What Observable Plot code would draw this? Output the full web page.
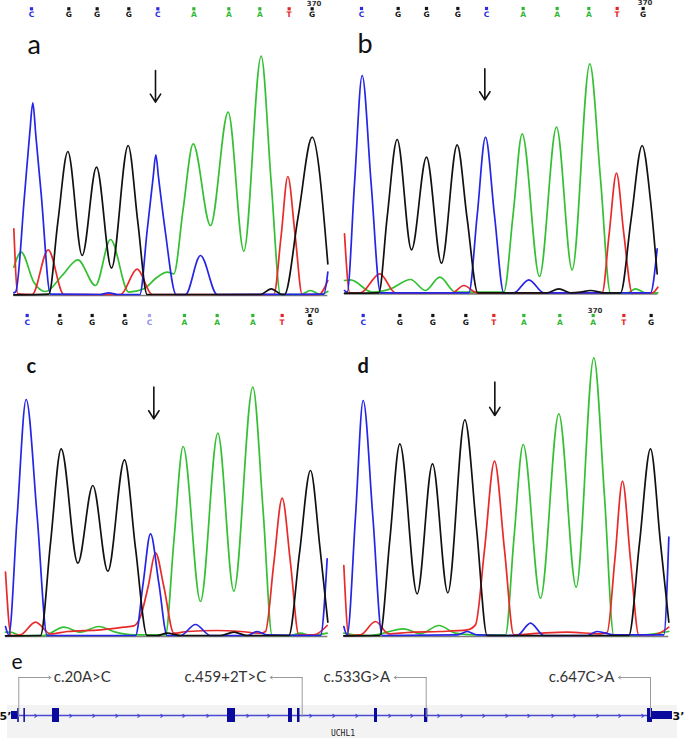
<!DOCTYPE html>
<html>
<head>
<meta charset="utf-8">
<script src="https://cdn.jsdelivr.net/npm/d3@7"></script>
<script src="https://cdn.jsdelivr.net/npm/@observablehq/plot@0.6"></script>
<style>
  body { margin: 0; background: #fff; }
  #fig { position: relative; width: 685px; height: 739px; overflow: hidden; background: #fff; }
</style>
</head>
<body>
<div id="fig"></div>
<script>
// ---------------- DATA ----------------
// Base calls (scan position of each call) for each panel
const calls = ["C","G","G","G","C","A","A","A","T","G"];
const callsD = ["C","G","G","G","T","A","A","A","T","G"];
const callPosA = [93,205,290,385,472,580,685,778,866,935];
const callPosB = [63,173,258,352,438,548,650,745,830,908];
const callPosC = [80,178,275,373,447,552,650,757,845,928];
const callPosD = [68,178,277,376,460,550,658,758,850,932];
const markIndexABC = 9;   // base numbered 370
const markIndexD = 7;
const markLabel = "370";
const panelLetters = ["a","b","c","d"];

// Trace vertices [scan, intensity]
// Panel a
const aGreen = [[40,85],[62,130],[100,40],[135,12],[185,60],[232,107],[285,30],[330,168],[385,10],[430,20],[470,55],[500,70],[520,65],[548,260],[578,455],[630,210],[683,550],[730,133],[782,718],[812,340],[840,3],[900,3],[930,15],[960,3],[982,12]];
const aRed = [[40,200],[52,5],[95,3],[143,137],[190,3],[360,3],[410,79],[455,3],[820,3],[842,180],[862,357],[884,180],[905,3],[955,3],[982,45]];
const aBlue = [[40,8],[46,12],[72,300],[88,490],[97,578],[106,480],[122,305],[150,4],[300,3],[325,8],[350,3],[418,3],[440,195],[458,355],[466,422],[474,355],[494,195],[527,3],[555,3],[600,120],[650,3],[970,4],[982,70]];
const aBlack = [[40,2],[145,4],[172,220],[202,432],[245,120],[288,385],[333,82],[383,450],[412,220],[440,3],[780,3],[812,20],[845,3],[852,3],[893,237],[935,475],[982,95]];
// Panel b
const bGreen = [[12,40],[30,42],[95,5],[150,15],[210,43],[255,10],[298,50],[345,5],[490,5],[518,240],[545,480],[597,52],[648,500],[695,72],[748,690],[780,345],[810,3],[860,3],[885,15],[915,3],[952,3]];
const bRed = [[12,180],[28,3],[60,3],[118,60],[165,3],[335,3],[370,25],[410,3],[785,3],[806,180],[828,362],[850,180],[875,3],[935,3],[952,20]];
const bBlue = [[12,10],[20,5],[42,330],[65,655],[92,330],[120,3],[385,3],[410,235],[435,470],[462,235],[490,3],[520,3],[565,42],[610,3],[930,3],[950,135]];
const bBlack = [[12,2],[115,3],[140,230],[170,463],[213,132],[258,410],[303,92],[350,447],[380,225],[412,3],[620,3],[655,15],[690,3],[720,5],[750,10],[790,3],[840,3],[872,225],[905,445],[930,280],[950,60]];
// Panel c
const cGreen = [[15,13],[30,13],[60,3],[130,3],[190,28],[240,13],[295,30],[345,13],[400,5],[495,5],[520,285],[548,570],[600,105],[652,610],[700,136],[757,748],[788,375],[815,3],[870,3],[900,10],[930,3],[980,10]];
const cRed = [[15,193],[32,3],[60,5],[105,43],[150,8],[200,15],[300,20],[370,28],[400,32],[420,60],[443,150],[465,251],[490,150],[520,10],[560,15],[650,18],[720,15],[780,10],[795,15],[820,220],[845,415],[870,220],[895,5],[940,5],[980,33]];
const cBlue = [[15,30],[25,5],[50,360],[77,711],[110,360],[140,3],[405,3],[428,160],[450,308],[475,160],[500,3],[540,3],[585,36],[630,3],[740,3],[770,15],[800,5],[960,3],[980,233]];
const cBlack = [[15,2],[120,3],[150,280],[182,563],[232,220],[277,453],[322,196],[372,530],[405,265],[440,3],[470,3],[500,10],[540,3],[660,3],[700,13],[740,3],[865,3],[897,250],[930,498],[958,270],[982,43]];
// Panel d
const dGreen = [[10,10],[40,5],[90,3],[190,23],[240,8],[295,33],[345,10],[400,5],[495,5],[520,290],[548,576],[600,115],[655,668],[707,148],[760,836],[792,420],[820,3],[880,3],[985,15]];
const dRed = [[10,213],[25,3],[60,5],[105,45],[145,8],[200,12],[300,15],[380,20],[405,35],[432,260],[462,526],[492,260],[520,5],[600,10],[680,13],[780,8],[800,12],[823,230],[846,466],[870,230],[895,5],[940,5],[985,28]];
const dBlue = [[10,30],[20,5],[45,360],[68,708],[97,360],[125,3],[350,5],[380,15],[410,5],[530,3],[570,40],[610,3],[740,3],[770,15],[820,5],[970,5],[985,298]];
const dBlack = [[10,2],[118,3],[148,290],[178,578],[230,128],[276,518],[322,131],[373,650],[408,325],[440,3],[865,3],[897,280],[930,563],[960,280],[985,43]];

// Arrows marking the variant base [scan, intensityTop, intensityTip]
const arrowA = [465, 675, 580];
const arrowB = [433, 675, 582];
const arrowC = [460, 748, 653];
const arrowD = [463, 763, 663];

// Gene model (UCHL1), genomic track coordinates
const geneName = "UCHL1";
const geneSpan = [11, 672];
const utrs = [[11,17.3],[652,672]];
const exons = [[17.2,18.8],[23.4,24.9],[52,59],[227,235],[288,292],[297,299.5],[374,377],[424,427.3],[647,652]];
const chevrons = [35,70,93,116,138,161,183,207,247,268,310,333,356,389,411,438,461,483,506,528,552,574,597,619,642];
const variants = ["c.20A>C","c.459+2T>C","c.533G>A","c.647C>A"];
const variantPos = [18.3,301.7,425.7,650];
const variantSide = [1,-1,-1,-1];

// ---------------- DRAWING ----------------
const fig = document.getElementById("fig");
const BASE_COLOR = {A: "#2fb82f", C: "#2b2be3", G: "#141414", T: "#e32626"};
const TRACE_COLOR = {A: "#33c033", C: "#2525e6", G: "#111111", T: "#e82a2a"};

function place(svg, left, top) {
  svg.style.position = "absolute";
  svg.style.left = left + "px";
  svg.style.top = top + "px";
  fig.appendChild(svg);
}

function chromPanel(p) {
  const idx = d3.range(p.calls.length);
  const allPts = p.traces.flatMap(t => t.pts);
  const xmin = d3.min(allPts, d => d[0]), xmax = d3.max(allPts, d => d[0]);
  const svg = Plot.plot({
    width: p.width, height: p.height, margin: 0,
    x: {domain: [0, p.width * 3], range: [0, p.width], axis: null},
    y: {domain: [0, p.baseZ], range: [40 + p.baseZ / 3, 40], axis: null},
    color: {type: "identity"},
    style: {background: "transparent", fontFamily: "DejaVu Sans, sans-serif", overflow: "visible"},
    marks: [
      Plot.ruleY([0], {x1: xmin, x2: xmax, stroke: "#7d7d7d", strokeWidth: 1.6}),
      ...p.traces.map(t => Plot.line(t.pts, {x: d => d[0], y: d => d[1], stroke: TRACE_COLOR[t.base], strokeWidth: 1.7, curve: "monotone-x"})),
      Plot.arrow([p.arrow], {x1: d => d[0], x2: d => d[0], y1: d => d[1], y2: d => d[2], stroke: "#111", strokeWidth: 1.6, headLength: 9, headAngle: 65}),
      Plot.dot(idx, {x: i => p.pos[i], frameAnchor: "top", dy: p.sqDy, symbol: "square", r: 1.8, stroke: null,
        fill: i => (p.faint === i ? "#a5a5f2" : BASE_COLOR[p.calls[i]])}),
      Plot.text(idx, {x: i => p.pos[i], frameAnchor: "top", lineAnchor: "middle", dy: p.letDy, text: i => p.calls[i], fontSize: 7.5, fontWeight: "bold",
        fill: i => (p.faint === i ? "#8f8fee" : BASE_COLOR[p.calls[i]])}),
      Plot.text([markLabel], {x: p.pos[p.mark], frameAnchor: "top", lineAnchor: "middle", dy: p.numDy, dx: 2, text: d => d, fontSize: 7, fontWeight: "bold", fill: "#333"}),
      Plot.text([p.letter], {frameAnchor: "top-left", lineAnchor: "middle", textAnchor: "start", dx: p.ldx, dy: p.ldy, text: d => d,
        fontSize: p.lsize, fontWeight: p.lweight, fontFamily: "Lato, sans-serif", fill: "#111"})
    ]
  });
  place(svg, p.left, p.top);
}

chromPanel({letter: panelLetters[0], left: 0, top: 0, width: 340, height: 300, baseZ: 765,
  traces: [{base:"A",pts:aGreen},{base:"T",pts:aRed},{base:"C",pts:aBlue},{base:"G",pts:aBlack}],
  calls: calls, pos: callPosA, mark: markIndexABC, arrow: arrowA,
  sqDy: 8.3, letDy: 14.3, numDy: 2.8, ldx: 27, ldy: 44.5, lsize: 27, lweight: 400});
chromPanel({letter: panelLetters[1], left: 340, top: 0, width: 345, height: 300, baseZ: 760,
  traces: [{base:"A",pts:bGreen},{base:"T",pts:bRed},{base:"C",pts:bBlue},{base:"G",pts:bBlack}],
  calls: calls, pos: callPosB, mark: markIndexABC, arrow: arrowB,
  sqDy: 8, letDy: 14, numDy: 2.5, ldx: 17, ldy: 44, lsize: 27, lweight: 400});
chromPanel({letter: panelLetters[2], left: 0, top: 300, width: 340, height: 340, baseZ: 888,
  traces: [{base:"A",pts:cGreen},{base:"T",pts:cRed},{base:"C",pts:cBlue},{base:"G",pts:cBlack}],
  calls: calls, pos: callPosC, mark: markIndexABC, arrow: arrowC, faint: 4,
  sqDy: 15, letDy: 22.5, numDy: 10, ldx: 26, ldy: 66.5, lsize: 20, lweight: 700});
chromPanel({letter: panelLetters[3], left: 340, top: 300, width: 345, height: 340, baseZ: 888,
  traces: [{base:"A",pts:dGreen},{base:"T",pts:dRed},{base:"C",pts:dBlue},{base:"G",pts:dBlack}],
  calls: callsD, pos: callPosD, mark: markIndexD, arrow: arrowD,
  sqDy: 15, letDy: 22.5, numDy: 10, ldx: 17, ldy: 66.5, lsize: 20, lweight: 700});

// Gene model panel e
const LINE_Y = 70, CALL_Y = 32;
const vIdx = d3.range(variants.length);
const rightLabels = vIdx.filter(i => variantSide[i] > 0);
const leftLabels = vIdx.filter(i => variantSide[i] < 0);
const gene = Plot.plot({
  width: 685, height: 94, margin: 0,
  x: {domain: [0, 685], range: [0, 685], axis: null},
  y: {domain: [0, 94], range: [0, 94], axis: null},
  style: {background: "transparent", fontFamily: "Lato, sans-serif", overflow: "visible"},
  marks: [
    Plot.rect([geneSpan], {x1: d => d[0] - 4, x2: d => d[1] + 5, y1: 60, y2: 93, fill: "#f3f3f3"}),
    Plot.ruleY([LINE_Y], {x1: geneSpan[0], x2: geneSpan[1], stroke: "#4a4ad4", strokeWidth: 1.5}),
    Plot.text(chevrons, {x: d => d, y: LINE_Y, text: () => "›", fill: "#3c3cd0", fontSize: 10, fontWeight: "bold", fontFamily: "DejaVu Sans"}),
    Plot.rect(utrs, {x1: d => d[0], x2: d => d[1], y1: LINE_Y - 4, y2: LINE_Y + 4, fill: "#0a0a9c"}),
    Plot.rect(exons, {x1: d => d[0], x2: d => d[1], y1: LINE_Y - 7, y2: LINE_Y + 7, fill: "#0a0a9c"}),
    Plot.ruleX(vIdx, {x: i => variantPos[i], y1: CALL_Y, y2: LINE_Y + 2, stroke: "#9a9a9a", strokeWidth: 1}),
    Plot.arrow(vIdx, {x1: i => variantPos[i], x2: i => variantPos[i] + variantSide[i] * 32, y1: CALL_Y, y2: CALL_Y,
      stroke: "#9a9a9a", strokeWidth: 1, headLength: 3.5, headAngle: 70}),
    Plot.text(rightLabels, {x: i => variantPos[i] + 35, y: CALL_Y, text: i => variants[i],
      textAnchor: "start", fontSize: 15, fill: "#333"}),
    Plot.text(leftLabels, {x: i => variantPos[i] - 36, y: CALL_Y, text: i => variants[i],
      textAnchor: "end", fontSize: 15, fill: "#333"}),
    Plot.text(["5’"], {x: geneSpan[0] - 6, y: LINE_Y + 1, text: d => d, fontSize: 11, fontWeight: "bold", fill: "#111", fontFamily: "DejaVu Sans"}),
    Plot.text(["3’"], {x: geneSpan[1] + 6, y: LINE_Y + 1, text: d => d, fontSize: 11, fontWeight: "bold", fill: "#111", fontFamily: "DejaVu Sans"}),
    Plot.text([geneName], {x: (geneSpan[0] + geneSpan[1]) / 2 + 1, y: 87.5, text: d => d, fontSize: 8, fill: "#222", fontFamily: "DejaVu Sans Mono"}),
    Plot.text(["e"], {frameAnchor: "top-left", lineAnchor: "middle", textAnchor: "start", dx: 11, dy: 16.5, text: d => d, fontSize: 21, fill: "#111"})
  ]
});
place(gene, 0, 645);
</script>
</body>
</html>
